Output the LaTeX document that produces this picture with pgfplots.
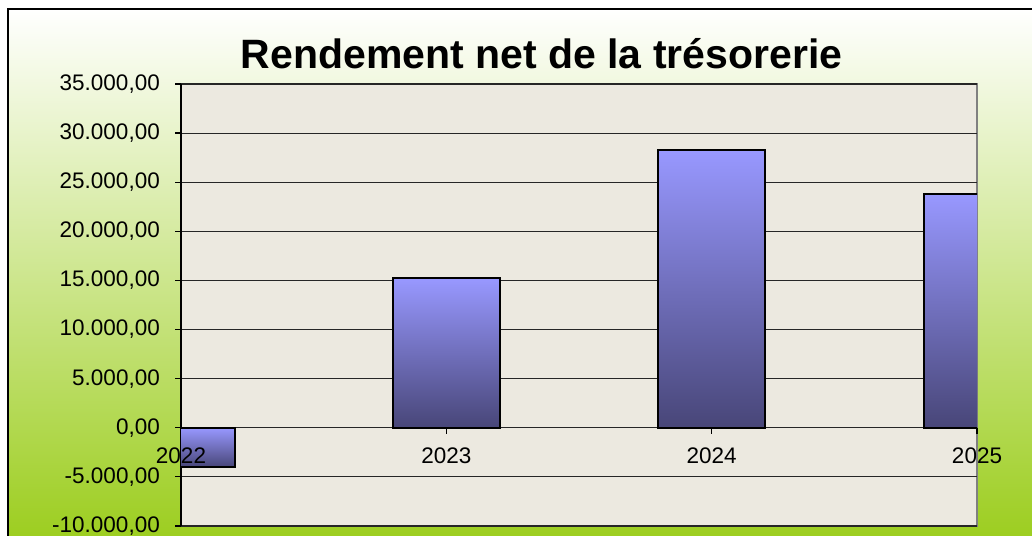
\documentclass[border=0pt]{standalone}
\usepackage{fontspec}
\setmainfont{Liberation Sans}
\usepackage{pgfplots}
\pgfplotsset{compat=1.18}

\definecolor{plotbg}{RGB}{236,233,224}
\definecolor{greenmid}{RGB}{220,232,195}
\definecolor{greenbot}{RGB}{153,204,24}
\definecolor{bartop}{RGB}{152,152,255}
\definecolor{barmid}{RGB}{120,114,194}
\definecolor{barbot}{RGB}{72,70,120}
\definecolor{framegray}{RGB}{128,128,128}

\pgfplotsset{
  frame geom/.style={
    at={(181bp,10bp)}, anchor=south west,
    scale only axis, width=796bp, height=442bp,
    xmin=0, xmax=3, ymin=-10000, ymax=35000,
    xtick={0,1,2,3},
    ticklabel style={font=\fontsize{22.5bp}{26bp}\selectfont, inner sep=0pt},
    tick align=outside, major tick length=6bp,
  },
  % one plot per bar so each bar gets its own gradient
  gradbar/.style={ybar, bar width=107bp, bar shift=0pt, draw=black,
    line width=2bp, top color=bartop, middle color=barmid, bottom color=barbot},
}

\begin{document}
\begin{tikzpicture}[x=1bp,y=1bp]
\useasboundingbox (0,0) rectangle (1032,536);
\fill[white] (0,0) rectangle (1032,536);
% chart area background
\shade[top color=white, middle color=greenmid, bottom color=greenbot] (8,-20) rectangle (1050,527);
\draw[black, line width=1.3bp] (8,-20) -- (8,527) -- (1050,527);
\node[font=\fontsize{41bp}{48bp}\selectfont\bfseries] at (541.5,482) {Rendement net de la trésorerie};

\begin{axis}[
    frame geom,
    xticklabels={},
    ytick distance=5000, scaled y ticks=false,
    axis y line*=left, axis x line*=bottom,
    x axis line style={draw=none},
    y axis line style={black, line width=1.3bp},
    tick style={black, line width=1.2bp},
    xtick style={yshift=98.2bp},
    axis background/.style={fill=plotbg, draw=framegray, line width=2.2bp},
    ymajorgrids, grid style={black!85, line width=1.1bp},
    yticklabel style={xshift=-15bp},
    /pgf/number format/.cd, fixed, fixed zerofill, precision=2,
    1000 sep={.}, use comma, assume math mode=true,
]
\addplot[gradbar] coordinates {(0,-4000)};
\addplot[gradbar] coordinates {(1,15200)};
\addplot[gradbar] coordinates {(2,28300)};
\addplot[gradbar] coordinates {(3,23800)};
\end{axis}

% category labels on top of the bars
\begin{axis}[
    frame geom,
    xticklabels={2022,2023,2024,2025},
    axis x line*=bottom, hide y axis,
    x axis line style={draw=none},
    xtick style={draw=none},
    xticklabel style={yshift=84bp},
]
\end{axis}
\end{tikzpicture}
\end{document}
